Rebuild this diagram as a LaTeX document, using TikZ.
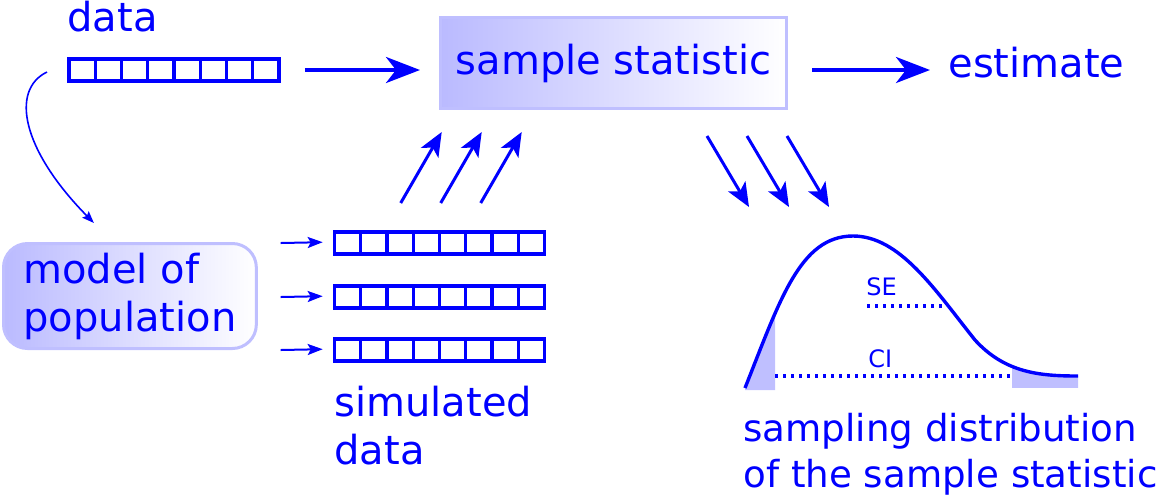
\documentclass[tikz,border=0pt]{standalone}
\usepackage{fontspec}
\setmainfont{DejaVu Sans}
\usetikzlibrary{arrows.meta,shadings}
\newcommand{\densitycurve}{(745,388) .. controls (780,300) and (800,236) .. (853,236)
  .. controls (900,236) and (935,290) .. (975,340)
  .. controls (1005,373) and (1040,376) .. (1078,376)}
\begin{document}
\begin{tikzpicture}
      [x=0.5pt,y=-0.5pt,color=blue,
      lbl/.style={inner sep=0pt,font=\fontsize{20}{24}\selectfont},
      small/.style={inner sep=0pt,font=\fontsize{12}{14}\selectfont},
      fadebox/.style={draw=blue!25,line width=1.5pt,left color=blue!27,right color=white,
        text=blue,font=\fontsize{20}{24}\selectfont},
      cellrow/.style={draw,line width=1.8pt,minimum width=105pt,minimum height=11.2pt,
        inner sep=0pt,path picture={
          \foreach \i in {1,...,7}
            \draw[line width=1.6pt] ([xshift=\i*13.125pt]path picture bounding box.south west)
              -- ([xshift=\i*13.125pt]path picture bounding box.north west);}},
      bigarrow/.style={line width=2pt,-{Stealth[length=17pt,width=13pt,inset=5pt]}},
      diagarrow/.style={line width=1.5pt,-{Stealth[length=12pt,width=10pt,inset=3pt]}},
      smallarrow/.style={line width=1pt,-{Stealth[length=7.5pt,width=5.5pt,inset=1.5pt]}},
      thinarrow/.style={line width=0.8pt,-{Stealth[length=6pt,width=4.5pt,inset=1pt]}},
      dots/.style={line width=1.6pt,dash pattern=on 1.6pt off 2.4pt}]
      \useasboundingbox (0,0) rectangle (1158,495);
      \node[lbl,anchor=base west] (datalbl) at (67,31) {data};
      \node[cellrow] (data) at (174,70) {};
      \node[fadebox,minimum width=173pt,minimum height=45.5pt] (stat) at (613.5,63) {sample statistic};
      \node[lbl,anchor=base west] (estimate) at (948,77) {estimate};
      \node[fadebox,rounded corners=12pt,align=left,inner xsep=10pt,inner ysep=0pt,
        minimum height=52.5pt,anchor=west] (model) at (2,296) {model of\\population};
      \node[cellrow] (sim1) at (439.5,243) {};
      \node[cellrow] (sim2) at (439.5,297) {};
      \node[cellrow] (sim3) at (439.5,350) {};
      \node[lbl,anchor=base west,align=left] (simlbl) at (334,464) {simulated\\data};
      \node[lbl,anchor=base west,align=left,font=\fontsize{18.6}{23}\selectfont] (samplbl) at (743,487)
        {sampling distribution\\of the sample statistic};
      \coordinate (curvestart) at (47,72);
      \draw[bigarrow,shorten <=12pt,shorten >=9.5pt] (data.east) -- (data.east -| stat.west);
      \draw[bigarrow,shorten <=12pt,shorten >=9pt] (stat.east |- data.east) -- (estimate.west |- data.east);
      \draw[thinarrow] (curvestart) .. controls +(-37,18) and +(-72,-73) .. ([shift={(-18pt,9.5pt)}]model.north);
      \foreach \s in {1,2,3} {
        \coordinate (in\s) at ([shift={(-26pt,0pt)}]sim\s.west);
        \draw[smallarrow,shorten >=5pt] (in\s) -- ([yshift=0.5pt]sim\s.west);
      }
      \foreach \d in {0,20,40} {
        \draw[diagarrow] ([shift={(34pt+\d pt,13.5pt)}]sim1.north west) -- ++(41,-71);
        \draw[diagarrow] ([shift={(-40.5pt+\d pt,-13pt)}]stat.south east) -- ++(42,71);
      }
      \begin{scope}
        \clip (745,300) rectangle (775,392);
        \fill[blue!25] \densitycurve -- (1078,390) -- (745,390) -- cycle;
      \end{scope}
      \begin{scope}
        \clip (1012,300) rectangle (1078,387);
        \fill[blue!25] \densitycurve -- (1078,390) -- (745,390) -- cycle;
      \end{scope}
      \draw[line width=1.7pt] \densitycurve;
      \draw[dots] (867,306) -- (943,306);
      \draw[dots] (775,376) -- (1012,376);
      \node[small,anchor=base west] (se) at (866,295) {SE};
      \node[small,anchor=base west] (ci) at (868,367) {CI};
    \end{tikzpicture}
\end{document}
